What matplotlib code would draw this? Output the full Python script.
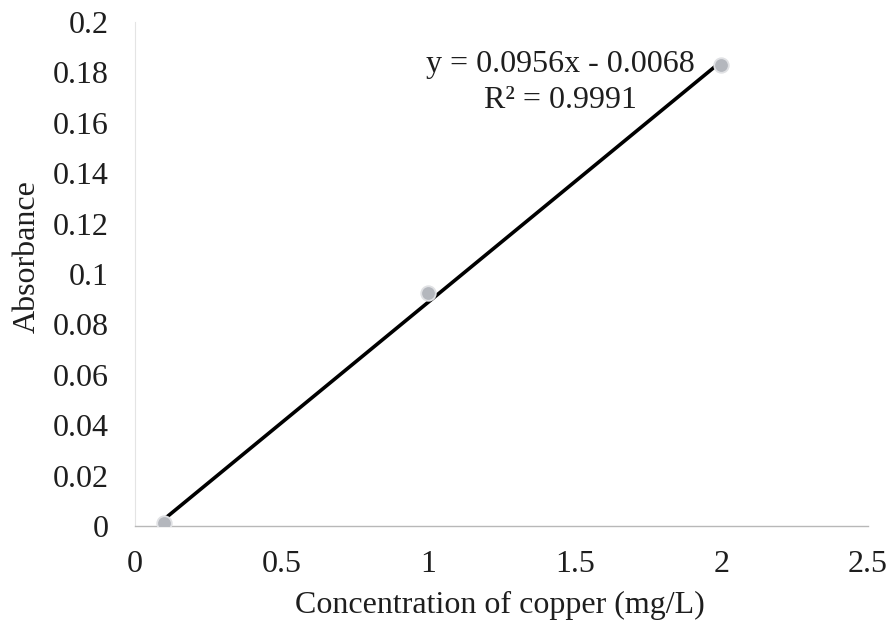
import matplotlib
matplotlib.use("Agg")
import matplotlib.pyplot as plt
import numpy as np

# dades de calibració del coure
conc = [0.1, 1.0, 2.0]
absorb = [0.001, 0.0925, 0.183]
slope = 0.0956
intercept = -0.0068
x_ticks = [0, 0.5, 1, 1.5, 2, 2.5]
y_ticks = [0, 0.02, 0.04, 0.06, 0.08, 0.1, 0.12, 0.14, 0.16, 0.18, 0.2]
y_labels = ["0", "0.02", "0.04", "0.06", "0.08", "0.1", "0.12", "0.14", "0.16", "0.18", "0.2"]
x_labels = ["0", "0.5", "1", "1.5", "2", "2.5"]

plt.rcParams["font.family"] = ["Liberation Serif", "DejaVu Serif"]
fs = 23
col = "#1e1e1e"

fig = plt.figure(figsize=(8.95, 6.31), dpi=100)
ax = fig.add_axes([135 / 895, 1 - 526 / 631, 733 / 895, 504 / 631])

# línia de tendència
xl = np.array([conc[0], conc[-1]])
ax.plot(xl, slope * xl + intercept, color="black", lw=2.6, zorder=2)
ax.scatter(conc, absorb, s=110, color="#b4b7bd", edgecolor="#e0e1e4", lw=1.3, zorder=3)

ax.set_xlim(0, 2.5)
ax.set_ylim(0, 0.2)
ax.set_xticks(x_ticks)
ax.set_xticklabels(x_labels)
ax.set_yticks(y_ticks)
ax.set_yticklabels(y_labels)
ax.tick_params(length=0, labelsize=fs, colors=col)
ax.tick_params(axis="x", pad=17)
ax.tick_params(axis="y", pad=19)

for s in ["top", "right"]:
    ax.spines[s].set_visible(False)
ax.spines["left"].set_color("#e4e4e4")
ax.spines["left"].set_linewidth(0.8)
ax.spines["bottom"].set_color("#b8b8b8")
ax.spines["bottom"].set_linewidth(1.0)

ax.text(0.581, 0.915, "y = 0.0956x - 0.0068", transform=ax.transAxes,
        ha="center", va="center", fontsize=fs, color=col)
ax.text(0.581, 0.845, "R² = 0.9991", transform=ax.transAxes,
        ha="center", va="center", fontsize=fs, color=col)

fig.text(500 / 895, 1 - 605 / 631, "Concentration of copper (mg/L)",
         ha="center", va="center", fontsize=fs, color=col)
fig.text(27 / 895, 1 - 257 / 631, "Absorbance", rotation=90,
         ha="center", va="center", fontsize=fs, color=col)

fig.savefig("out.png", dpi=100)
